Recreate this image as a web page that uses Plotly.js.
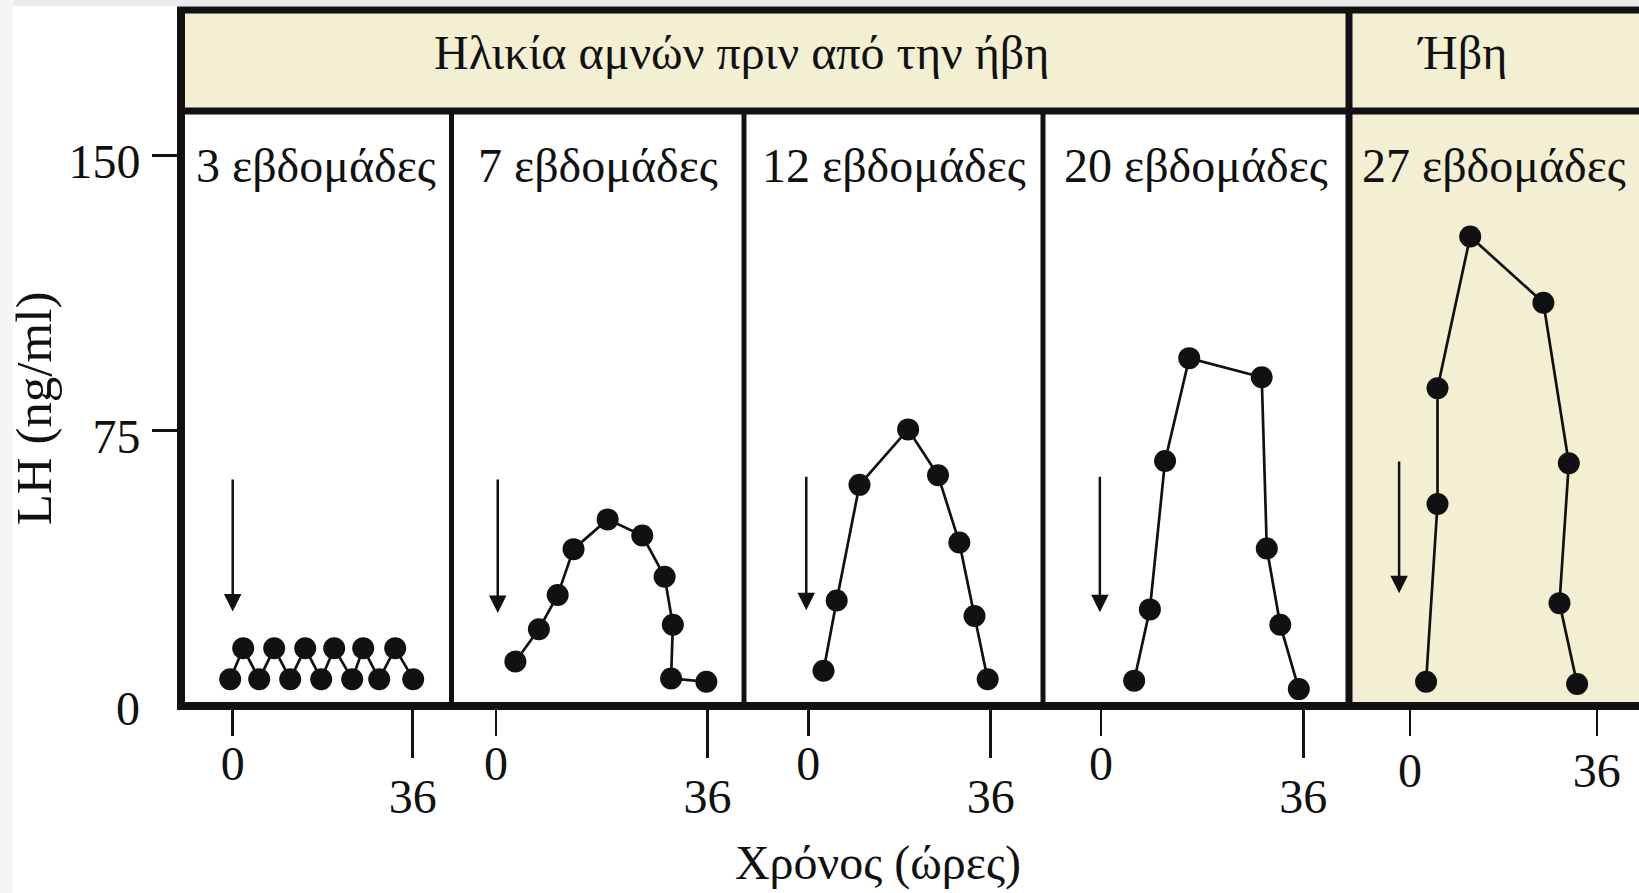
<!DOCTYPE html>
<html>
<head>
<meta charset="utf-8">
<script src="https://cdn.plot.ly/plotly-3.0.1.min.js"></script>
<style>html,body{margin:0;padding:0;background:#ffffff;}</style>
</head>
<body>
<div id="chart" style="width:1639px;height:893px;"></div>
<script>
// ---------------- data ----------------
const headerLabels = ['Ηλικία αμνών πριν από την ήβη', 'Ήβη'];
const panelLabels = ['3 εβδομάδες', '7 εβδομάδες', '12 εβδομάδες', '20 εβδομάδες', '27 εβδομάδες'];
const yTitle = 'LH (ng/ml)';
const xTitle = 'Χρόνος (ώρες)';
const yTickVals = [0, 75, 150];
const xTickVals = [0, 36];

// time (hours) and LH (ng/ml) per age group
const hours3w  = [-0.5, 2.1, 5.3, 8.3, 11.5, 14.5, 17.7, 20.3, 23.9, 26.1, 29.3, 32.5, 36.1];
const lh3w     = [7.3, 15.7, 7.3, 15.7, 7.3, 15.7, 7.3, 15.7, 7.3, 15.7, 7.3, 15.7, 7.3];
const hours7w  = [3.3, 7.3, 10.5, 13.2, 19.0, 24.9, 28.7, 30.1, 29.8, 35.8];
const lh7w     = [12.1, 20.9, 30.2, 42.7, 50.8, 46.4, 35.2, 22.1, 7.5, 6.6];
const hours12w = [3.0, 5.6, 10.1, 19.7, 25.6, 29.8, 32.8, 35.4];
const lh12w    = [9.6, 28.7, 60.2, 75.3, 62.8, 44.5, 24.5, 7.3];
const hours20w = [5.9, 8.7, 11.4, 15.7, 28.6, 29.5, 31.9, 35.2];
const lh20w    = [6.9, 26.3, 66.7, 94.7, 89.5, 42.9, 22.1, 4.6];
const hours27w = [3.1, 5.3, 5.3, 11.6, 25.7, 30.6, 28.8, 32.2];
const lh27w    = [6.6, 55.0, 86.5, 127.8, 109.8, 66.1, 28.0, 6.0];

// injection arrows: time, arrow start and tip (LH units)
const injectionHour = [0, 0.3, -0.4, -0.2, -2.1];
const arrowFrom     = [62.1, 62.1, 62.8, 62.8, 67.0];
const arrowTo       = [25.7, 25.3, 26.1, 25.5, 30.7];

// ---------------- styling / layout ----------------
const FONT = 'Liberation Serif, Times New Roman, serif';
const INK = '#111111';
const BEIGE = '#F3EFD3';
const FS = 48;
const NONE = 'rgba(0,0,0,0)';

const hoursAll = [hours3w, hours7w, hours12w, hours20w, hours27w];
const lhAll = [lh3w, lh7w, lh12w, lh20w, lh27w];

const domains = [[0, 0.18553], [0.18553, 0.38615], [0.38615, 0.59122], [0.59122, 0.80110], [0.80110, 1]];
const ranges = [[-10.34, 43.76], [-7.57, 42.21], [-12.69, 46.32], [-10.32, 44.13], [-11.75, 44.12]];
const yRange = [0, 161.98];

const xid = i => (i === 0 ? 'x' : 'x' + (i + 1));
const xkey = i => (i === 0 ? 'xaxis' : 'xaxis' + (i + 1));

const traces = [];
const placeholder = (xa, ya) => traces.push({x: [], y: [], xaxis: xa, yaxis: ya, type: 'scatter', mode: 'markers', hoverinfo: 'skip', showlegend: false});

const layout = {
  width: 1639, height: 893,
  margin: {l: 181, r: 0, t: 111, b: 187, pad: 0},
  paper_bgcolor: '#ffffff', plot_bgcolor: NONE,
  font: {family: FONT, size: FS, color: INK},
  showlegend: false,
  yaxis: {
    range: yRange, anchor: 'x',
    tickvals: yTickVals.slice(1), ticktext: yTickVals.slice(1).map(String),
    ticks: 'outside', ticklen: 28, tickwidth: 3, tickcolor: INK,
    ticklabelstandoff: 2, ticklabelshift: 6,
    showgrid: false, zeroline: false, showline: false,
    tickfont: {family: FONT, size: FS, color: INK},
    title: {text: yTitle, font: {family: FONT, size: 51, color: INK}, standoff: 0}
  },
  yaxis2: {
    range: yRange, overlaying: 'y', anchor: 'x', side: 'left',
    tickvals: [yTickVals[0]], ticktext: [String(yTickVals[0])],
    ticks: '', ticklabelstandoff: 40, ticklabelshift: 2,
    showgrid: false, zeroline: false, showline: false,
    tickfont: {family: FONT, size: FS, color: INK}
  },
  shapes: [],
  annotations: []
};
placeholder('x', 'y2');

for (let i = 0; i < 5; i++) {
  const vals = i < 4 ? [xTickVals[0]] : xTickVals;
  layout[xkey(i)] = {
    domain: domains[i], range: ranges[i], anchor: 'y',
    tickvals: vals, ticktext: vals.map(String),
    ticks: 'outside', ticklen: 29, tickwidth: 2.5, tickcolor: INK,
    ticklabelstandoff: i < 4 ? -14 : -7,
    showgrid: false, zeroline: false, showline: false,
    tickfont: {family: FONT, size: FS, color: INK}
  };
  if (i < 4) {
    layout['xaxis' + (i + 6)] = {
      overlaying: xid(i), range: ranges[i], anchor: 'y', side: 'bottom',
      tickvals: [xTickVals[1]], ticktext: [String(xTickVals[1])],
      ticks: 'outside', ticklen: 51, tickwidth: 2.5, tickcolor: INK,
      ticklabelstandoff: -3,
      showgrid: false, zeroline: false, showline: false,
      tickfont: {family: FONT, size: FS, color: INK}
    };
    placeholder('x' + (i + 6), 'y');
  }
}
layout.xaxis10 = {
  domain: [0, 0.956], range: [0, 1], anchor: 'y',
  showticklabels: false, ticks: '', showgrid: false, zeroline: false, showline: false,
  title: {text: xTitle, font: {family: FONT, size: FS, color: INK}, standoff: 139}
};
placeholder('x10', 'y');

// data traces (drawn last, on top)
hoursAll.forEach((h, i) => traces.push({
  x: h, y: lhAll[i], xaxis: xid(i), yaxis: 'y',
  type: 'scatter', mode: 'lines+markers',
  marker: {size: 22, color: INK},
  line: {color: INK, width: 2.7},
  cliponaxis: false, hoverinfo: 'skip', showlegend: false
}));

// background + frame shapes (paper coords)
const S = layout.shapes;
const HT = 1.1697; // header top
S.push({type: 'rect', xref: 'paper', yref: 'paper', x0: -0.13, x1: 1.02, y0: 1.1765, y1: 1.19, fillcolor: '#ebebeb', line: {width: 0}, layer: 'below'});
S.push({type: 'rect', xref: 'paper', yref: 'paper', x0: -0.13, x1: -0.1152, y0: -0.32, y1: 1.19, fillcolor: '#f5f5f5', line: {width: 0}, layer: 'below'});
S.push({type: 'rect', xref: 'paper', yref: 'paper', x0: 0, x1: 1.02, y0: 1, y1: HT, fillcolor: BEIGE, line: {width: 0}, layer: 'below'});
S.push({type: 'rect', xref: 'paper', yref: 'paper', x0: domains[4][0], x1: 1.02, y0: 0, y1: 1, fillcolor: BEIGE, line: {width: 0}, layer: 'below'});
const L = (x0, y0, x1, y1, w) => S.push({type: 'line', xref: 'paper', yref: 'paper', x0, y0, x1, y1, line: {color: INK, width: w}, layer: 'above'});
L(0, -0.0067, 0, HT + 0.005, 8);            // left frame
L(-0.0027, 0, 1.02, 0, 8);                  // bottom axis line
L(-0.0027, HT, 1.02, HT, 7);                // header top
L(0, 1, 1.02, 1, 7);                        // header bottom
for (let i = 1; i < 4; i++) L(domains[i][0], 0, domains[i][0], 1, 5);
L(domains[4][0], 0, domains[4][0], HT, 7);  // header divider

// text annotations
const A = layout.annotations;
A.push({xref: 'paper', yref: 'paper', x: 0.3841, y: 1.0985, text: headerLabels[0], showarrow: false, xanchor: 'center', yanchor: 'middle', font: {family: FONT, size: FS, color: INK}});
A.push({xref: 'paper', yref: 'paper', x: 0.8786, y: 1.0985, text: headerLabels[1], showarrow: false, xanchor: 'center', yanchor: 'middle', font: {family: FONT, size: FS, color: INK}});
panelLabels.forEach((t, i) => A.push({xref: xid(i) + ' domain', yref: 'paper', x: 0.5, y: 0.9076, text: t, showarrow: false, xanchor: 'center', yanchor: 'middle', font: {family: FONT, size: FS, color: INK}}));
injectionHour.forEach((h, i) => A.push({
  xref: xid(i), yref: 'y', axref: xid(i), ayref: 'y',
  x: h, y: arrowTo[i], ax: h, ay: arrowFrom[i], text: '',
  showarrow: true, arrowhead: 2, arrowsize: 1.4, arrowwidth: 2.5, arrowcolor: INK, standoff: 0
}));

Plotly.newPlot('chart', traces, layout, {displayModeBar: false, staticPlot: true});
</script>
</body>
</html>
